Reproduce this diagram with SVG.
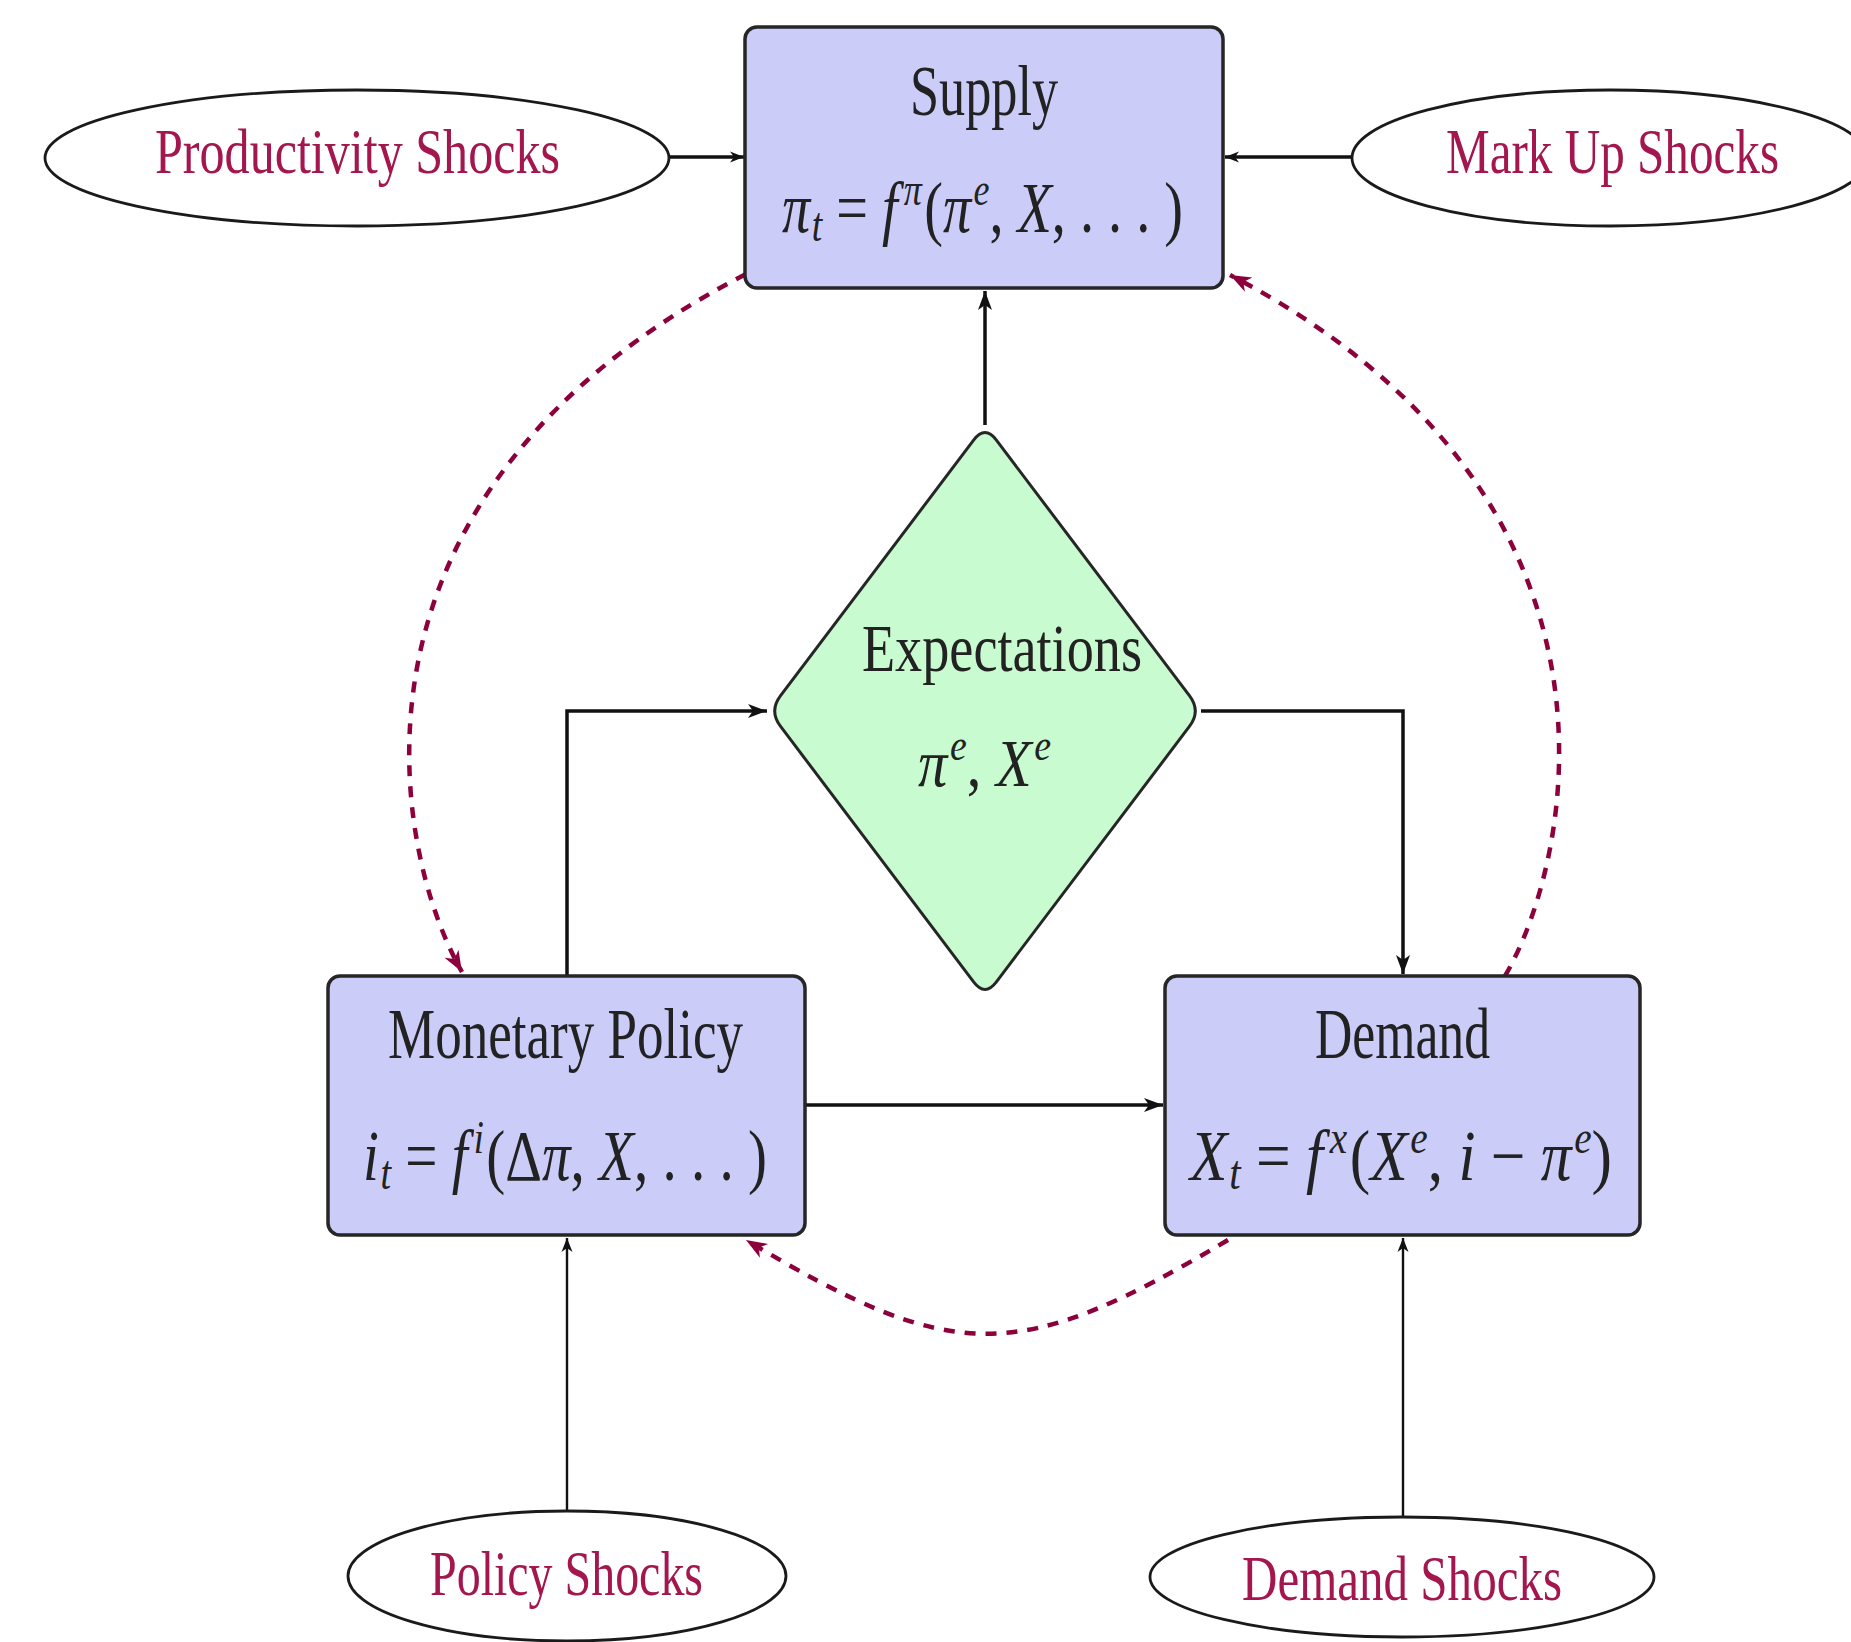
<svg xmlns="http://www.w3.org/2000/svg" width="1851" height="1642" viewBox="0 0 1851 1642">
  <defs>
    <style>
      .box { fill: #CCCCF9; stroke: #262626; stroke-width: 3.5; }
      .dia { fill: #C8FBD0; stroke: #262626; stroke-width: 3; }
      .shock { fill: #ffffff; stroke: #1a1a1a; stroke-width: 2.8; }
      .t { font-family: "Liberation Serif", "Times New Roman", serif; fill: #222222; }
      .s { font-family: "Liberation Serif", "Times New Roman", serif; fill: #A3174E; }
      .i { font-style: italic; }
      .conn { fill: none; stroke: #111111; stroke-width: 3.5; }
      .thin { stroke-width: 2.4; }
      .dash { fill: none; stroke: #8C003C; stroke-width: 4.5; stroke-dasharray: 11 10; }
    </style>
    <marker id="arr" viewBox="-22 -9 24 18" refX="0" refY="0" markerWidth="24" markerHeight="18" markerUnits="userSpaceOnUse" orient="auto">
      <path d="M0,0 L-19,-7 L-14,0 L-19,7 Z" fill="#111111"/>
    </marker>
    <marker id="arrs" viewBox="-16 -7 18 14" refX="0" refY="0" markerWidth="18" markerHeight="14" markerUnits="userSpaceOnUse" orient="auto">
      <path d="M0,0 L-14,-5.5 L-10,0 L-14,5.5 Z" fill="#111111"/>
    </marker>
    <marker id="arrr" viewBox="-24 -10 26 20" refX="0" refY="0" markerWidth="26" markerHeight="20" markerUnits="userSpaceOnUse" orient="auto">
      <path d="M0,0 L-21,-8 L-15,0 L-21,8 Z" fill="#8C003C"/>
    </marker>
  </defs>

  <rect width="1851" height="1642" fill="#ffffff"/>

  <!-- connectors -->
  <g id="connectors">
    <path class="conn" d="M985,425 L985,291" marker-end="url(#arr)"/>
    <path class="conn" d="M567,975 L567,711 L767,711" marker-end="url(#arr)"/>
    <path class="conn" d="M1201,711 L1403,711 L1403,974" marker-end="url(#arr)"/>
    <path class="conn" d="M806,1105 L1163,1105" marker-end="url(#arr)"/>
    <path class="conn" d="M670,157 L744,157" stroke-width="3" marker-end="url(#arrs)"/>
    <path class="conn" d="M1352,157 L1225,157" stroke-width="3" marker-end="url(#arrs)"/>
    <path class="conn thin" d="M567,1510 L567,1238" marker-end="url(#arrs)"/>
    <path class="conn thin" d="M1403,1517 L1403,1238" marker-end="url(#arrs)"/>
    <!-- dashed feedback arcs -->
    <path class="dash" d="M746,274 C320,494 393,852 462,972" marker-end="url(#arrr)"/>
    <path class="dash" d="M1505,976 C1574,858 1650,494 1230,275" marker-end="url(#arrr)"/>
    <path class="dash" d="M1228,1240 C1017,1365 955,1365 746,1240" marker-end="url(#arrr)"/>
  </g>

  <g id="supply">
    <rect class="box" x="745" y="27" width="478" height="261" rx="12"/>
    <text class="t" x="910" y="115" font-size="72" textLength="148" lengthAdjust="spacingAndGlyphs">Supply</text>
    <text class="t" x="782" y="232" font-size="72" textLength="401" lengthAdjust="spacingAndGlyphs"><tspan class="i">π</tspan><tspan class="i" font-size="48" dx="2" dy="9">t</tspan><tspan dy="-9"> = </tspan><tspan class="i">f</tspan><tspan class="i" font-size="46" dx="8" dy="-27">π</tspan><tspan dx="3" dy="27">(</tspan><tspan class="i">π</tspan><tspan class="i" font-size="46" dx="3" dy="-27">e</tspan><tspan dy="27">, </tspan><tspan class="i">X</tspan><tspan>, . . . )</tspan></text>
  </g>

  <g id="productivity-shocks">
    <ellipse class="shock" cx="357" cy="158" rx="312" ry="68"/>
    <text class="s" x="155" y="173" font-size="64" textLength="405" lengthAdjust="spacingAndGlyphs">Productivity Shocks</text>
  </g>

  <g id="markup-shocks">
    <ellipse class="shock" cx="1610" cy="158" rx="258" ry="68"/>
    <text class="s" x="1446" y="173" font-size="64" textLength="333" lengthAdjust="spacingAndGlyphs">Mark Up Shocks</text>
  </g>

  <g id="expectations">
    <path class="dia" d="M973.6,440.2 Q985,425 996.4,440.2 L1189.6,695.8 Q1201,711 1189.6,726.2 L996.4,981.8 Q985,997 973.6,981.8 L780.4,726.2 Q769,711 780.4,695.8 Z"/>
    <text class="t" x="862" y="671" font-size="68" textLength="280" lengthAdjust="spacingAndGlyphs">Expectations</text>
    <text class="t" x="918" y="786" font-size="68" textLength="133" lengthAdjust="spacingAndGlyphs"><tspan class="i">π</tspan><tspan class="i" font-size="44" dx="3" dy="-26">e</tspan><tspan dy="26">, </tspan><tspan class="i">X</tspan><tspan class="i" font-size="44" dx="3" dy="-26">e</tspan></text>
  </g>

  <g id="monetary-policy">
    <rect class="box" x="328" y="976" width="477" height="259" rx="12"/>
    <text class="t" x="388" y="1058" font-size="72" textLength="355" lengthAdjust="spacingAndGlyphs">Monetary Policy</text>
    <text class="t" x="363" y="1180" font-size="72" textLength="404" lengthAdjust="spacingAndGlyphs"><tspan class="i">i</tspan><tspan class="i" font-size="48" dx="2" dy="9">t</tspan><tspan dy="-9"> = </tspan><tspan class="i">f</tspan><tspan class="i" font-size="46" dx="8" dy="-27">i</tspan><tspan dx="3" dy="27">(Δ</tspan><tspan class="i">π</tspan><tspan>, </tspan><tspan class="i">X</tspan><tspan>, . . . )</tspan></text>
  </g>

  <g id="demand">
    <rect class="box" x="1165" y="976" width="475" height="259" rx="12"/>
    <text class="t" x="1315" y="1058" font-size="72" textLength="175" lengthAdjust="spacingAndGlyphs">Demand</text>
    <text class="t" x="1190" y="1180" font-size="72" textLength="422" lengthAdjust="spacingAndGlyphs"><tspan class="i">X</tspan><tspan class="i" font-size="48" dx="2" dy="9">t</tspan><tspan dy="-9"> = </tspan><tspan class="i">f</tspan><tspan class="i" font-size="46" dx="8" dy="-27">x</tspan><tspan dx="3" dy="27">(</tspan><tspan class="i">X</tspan><tspan class="i" font-size="46" dx="3" dy="-27">e</tspan><tspan dy="27">, </tspan><tspan class="i">i</tspan><tspan> − </tspan><tspan class="i">π</tspan><tspan class="i" font-size="46" dx="3" dy="-27">e</tspan><tspan dy="27">)</tspan></text>
  </g>

  <g id="policy-shocks">
    <ellipse class="shock" cx="567" cy="1576" rx="219" ry="65"/>
    <text class="s" x="430" y="1595" font-size="64" textLength="273" lengthAdjust="spacingAndGlyphs">Policy Shocks</text>
  </g>

  <g id="demand-shocks">
    <ellipse class="shock" cx="1402" cy="1577" rx="252" ry="60"/>
    <text class="s" x="1242" y="1600" font-size="64" textLength="320" lengthAdjust="spacingAndGlyphs">Demand Shocks</text>
  </g>
</svg>
